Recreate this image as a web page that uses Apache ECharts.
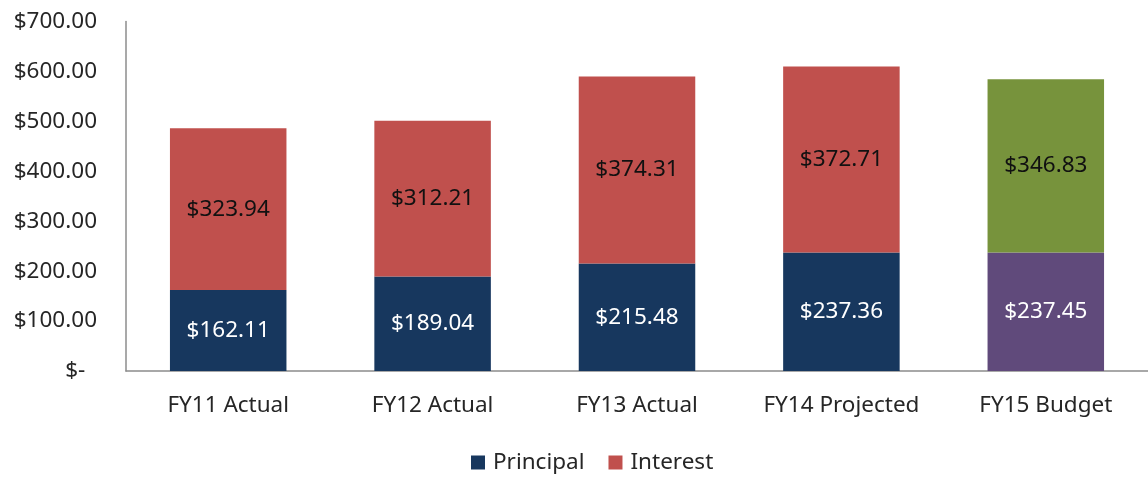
<!DOCTYPE html>
<html>
<head>
<meta charset="utf-8">
<script src="https://cdn.jsdelivr.net/npm/echarts@6/dist/echarts.min.js"></script>
<style>
  html, body { margin: 0; padding: 0; background: #fff; }
  #chart { width: 1148px; height: 477px; }
</style>
</head>
<body>
<div id="chart"></div>
<script>
// Debt service by fiscal year (thousands)
const categories = ['FY11 Actual', 'FY12 Actual', 'FY13 Actual', 'FY14 Projected', 'FY15 Budget'];
const principal = [162.11, 189.04, 215.48, 237.36, 237.45];
const interest = [323.94, 312.21, 374.31, 372.71, 346.83];
const yTicks = [0, 100, 200, 300, 400, 500, 600, 700];

const NAVY = '#17375E', RED = '#C0504D', PURPLE = '#604A7B', GREEN = '#77933C';
const FONT = 'Noto Sans';
const FS = 22.5;
const budgetIndex = categories.length - 1;

function money(v) {
  return '$' + v.toFixed(2);
}

function buildData(values, normal, budget) {
  return values.map((v, i) => i === budgetIndex
    ? { value: v, itemStyle: { color: budget } }
    : { value: v, itemStyle: { color: normal } });
}

const chart = echarts.init(document.getElementById('chart'), null, { renderer: 'canvas' });
chart.setOption({
  animation: false,
  textStyle: { fontFamily: FONT },
  grid: { left: 126, top: 21.5, width: 1030, height: 349.5, containLabel: false },
  legend: {
    top: 446,
    left: 466,
    itemWidth: 14,
    itemHeight: 14,
    itemGap: 24,
    icon: 'rect',
    textStyle: { fontFamily: FONT, fontSize: FS, color: '#262626', padding: [0, 0, 0, 3] },
    data: [
      { name: 'Principal', itemStyle: { color: NAVY } },
      { name: 'Interest', itemStyle: { color: RED } }
    ]
  },
  xAxis: {
    type: 'category',
    data: categories,
    axisLine: { lineStyle: { color: '#8c8c8c', width: 1.5 } },
    axisTick: { show: false },
    axisLabel: { fontFamily: FONT, fontSize: FS, color: '#262626', margin: 23 }
  },
  yAxis: {
    type: 'value',
    min: yTicks[0],
    max: yTicks[yTicks.length - 1],
    interval: 100,
    splitLine: { show: false },
    axisLine: { show: true, lineStyle: { color: '#8c8c8c', width: 1.5 } },
    axisTick: { show: false },
    axisLabel: {
      fontFamily: FONT, fontSize: FS, color: '#262626', margin: 29,
      formatter: v => v === 0 ? '$-  ' : money(v)
    }
  },
  series: [
    {
      name: 'Principal',
      type: 'bar',
      stack: 'total',
      barWidth: '57%',
      data: buildData(principal, NAVY, PURPLE),
      label: {
        show: true, position: 'inside', color: '#ffffff',
        fontFamily: FONT, fontSize: FS,
        formatter: p => money(p.value)
      }
    },
    {
      name: 'Interest',
      type: 'bar',
      stack: 'total',
      barWidth: '57%',
      data: buildData(interest, RED, GREEN),
      label: {
        show: true, position: 'inside', color: '#111111',
        fontFamily: FONT, fontSize: FS,
        formatter: p => money(p.value)
      }
    }
  ]
});
</script>
</body>
</html>
